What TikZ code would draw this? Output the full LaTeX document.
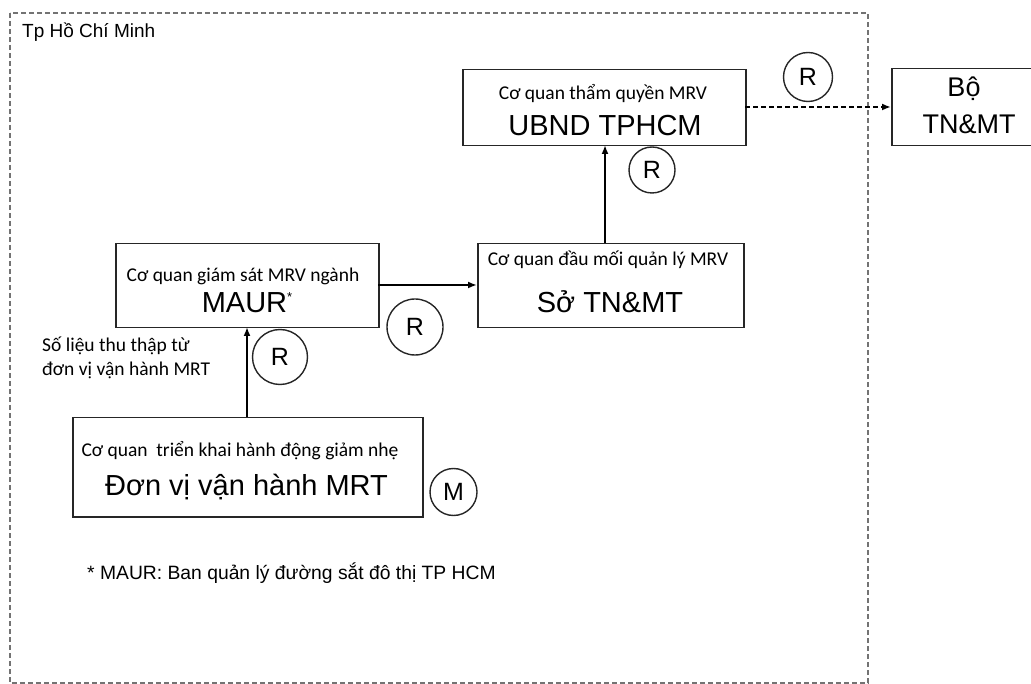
\documentclass[tikz,border=0pt]{standalone}
\usepackage{fontspec}
\setmainfont{Liberation Sans}
\newfontfamily\calfont{Carlito}
\usetikzlibrary{arrows.meta}
\tikzset{
  orgbox/.style={draw=black!85, line width=1.5pt},
  smalltxt/.style={font=\calfont\fontsize{19.5}{23}\selectfont, inner sep=0pt, anchor=base},
  bigtxt/.style={font=\fontsize{29}{33}\selectfont, inner sep=0pt, anchor=base},
  flow/.style={draw=black, line width=1.8pt, -{Latex[length=9pt,width=7pt]}},
  dflow/.style={flow, dash pattern=on 5pt off 3pt},
  tag/.style={circle, draw=black!85, line width=1.4pt, inner sep=0pt, font=\fontsize{25}{27}\selectfont},
  region/.style={draw=black!55, line width=1.5pt, dash pattern=on 5pt off 3pt}
}
\begin{document}
\begin{tikzpicture}[x=1pt,y=-1pt]
\useasboundingbox (0,0) rectangle (1031,684);
\clip (0,0) rectangle (1031,684);
% region
\draw[region] (10,13) rectangle (868,683);
\node[anchor=base west, inner sep=0pt, font=\fontsize{19}{22}\selectfont] (city) at (22,38) {Tp Hồ Chí Minh};

% boxes
\node[orgbox, minimum width=283pt, minimum height=76pt, anchor=north west] (ubnd) at (462,69) {};
\node[smalltxt] (ubndA) at (603,99.5) {Cơ quan thẩm quyền MRV};
\node[bigtxt] (ubndB) at (605,135.5) {UBND TPHCM};

\node[orgbox, minimum width=160pt, minimum height=77pt, anchor=north west] (bo) at (891,68) {};
\node[bigtxt, font=\fontsize{27}{30}\selectfont] (boA) at (964,96.7) {Bộ};
\node[bigtxt, font=\fontsize{27}{30}\selectfont] (boB) at (969,133.3) {TN\&MT};

\node[orgbox, minimum width=263pt, minimum height=84pt, anchor=north west] (maur) at (115,243) {};
\node[smalltxt] (maurA) at (243,282) {Cơ quan giám sát MRV ngành};
\node[bigtxt] (maurB) at (247,313) {MAUR\raisebox{11pt}{\fontsize{13}{13}\selectfont *}};

\node[orgbox, minimum width=266pt, minimum height=84pt, anchor=north west] (so) at (477,243) {};
\node[smalltxt] (soA) at (608,266) {Cơ quan đầu mối quản lý MRV};
\node[bigtxt] (soB) at (610,313) {Sở TN\&MT};

\node[orgbox, minimum width=350pt, minimum height=99pt, anchor=north west] (dv) at (72,417) {};
\node[smalltxt] (dvA) at (240,456.7) {Cơ quan\ \ triển khai hành động giảm nhẹ};
\node[bigtxt] (dvB) at (246.5,495) {Đơn vị vận hành MRT};

% side note and footnote
\node[anchor=base west, inner sep=0pt, align=left, font=\calfont\fontsize{19.5}{24}\selectfont] (note) at (42,376) {Số liệu thu thập từ\\đơn vị vận hành MRT};
\node[anchor=base west, inner sep=0pt, font=\fontsize{19.3}{22}\selectfont] (foot) at (87,579.5) {* MAUR: Ban quản lý đường sắt đô thị TP HCM};

% connectors
\coordinate (dvT) at (247,417);
\coordinate (maurBt) at (247,327);
\draw[flow] (dvT) -- (maurBt);
\coordinate (maurR) at (378,285);
\coordinate (soL) at (477,285);
\draw[flow] (maurR) -- (soL);
\coordinate (soT) at (605,243);
\coordinate (ubndBt) at (605,145);
\draw[flow] (soT) -- (ubndBt);
\coordinate (ubndR) at (745,107);
\coordinate (boL) at (891,107);
\draw[dflow] (ubndR) -- (boL);

% tags
\node[tag, minimum size=49pt] (r1) at (808,77) {R};
\node[tag, minimum size=46pt] (r2) at (652,170) {R};
\node[tag, minimum size=56pt] (r3) at (415,327) {R};
\node[tag, minimum size=55pt] (r4) at (280,357) {R};
\node[tag, minimum size=47pt] (m1) at (453.5,492) {M};
\end{tikzpicture}
\end{document}
